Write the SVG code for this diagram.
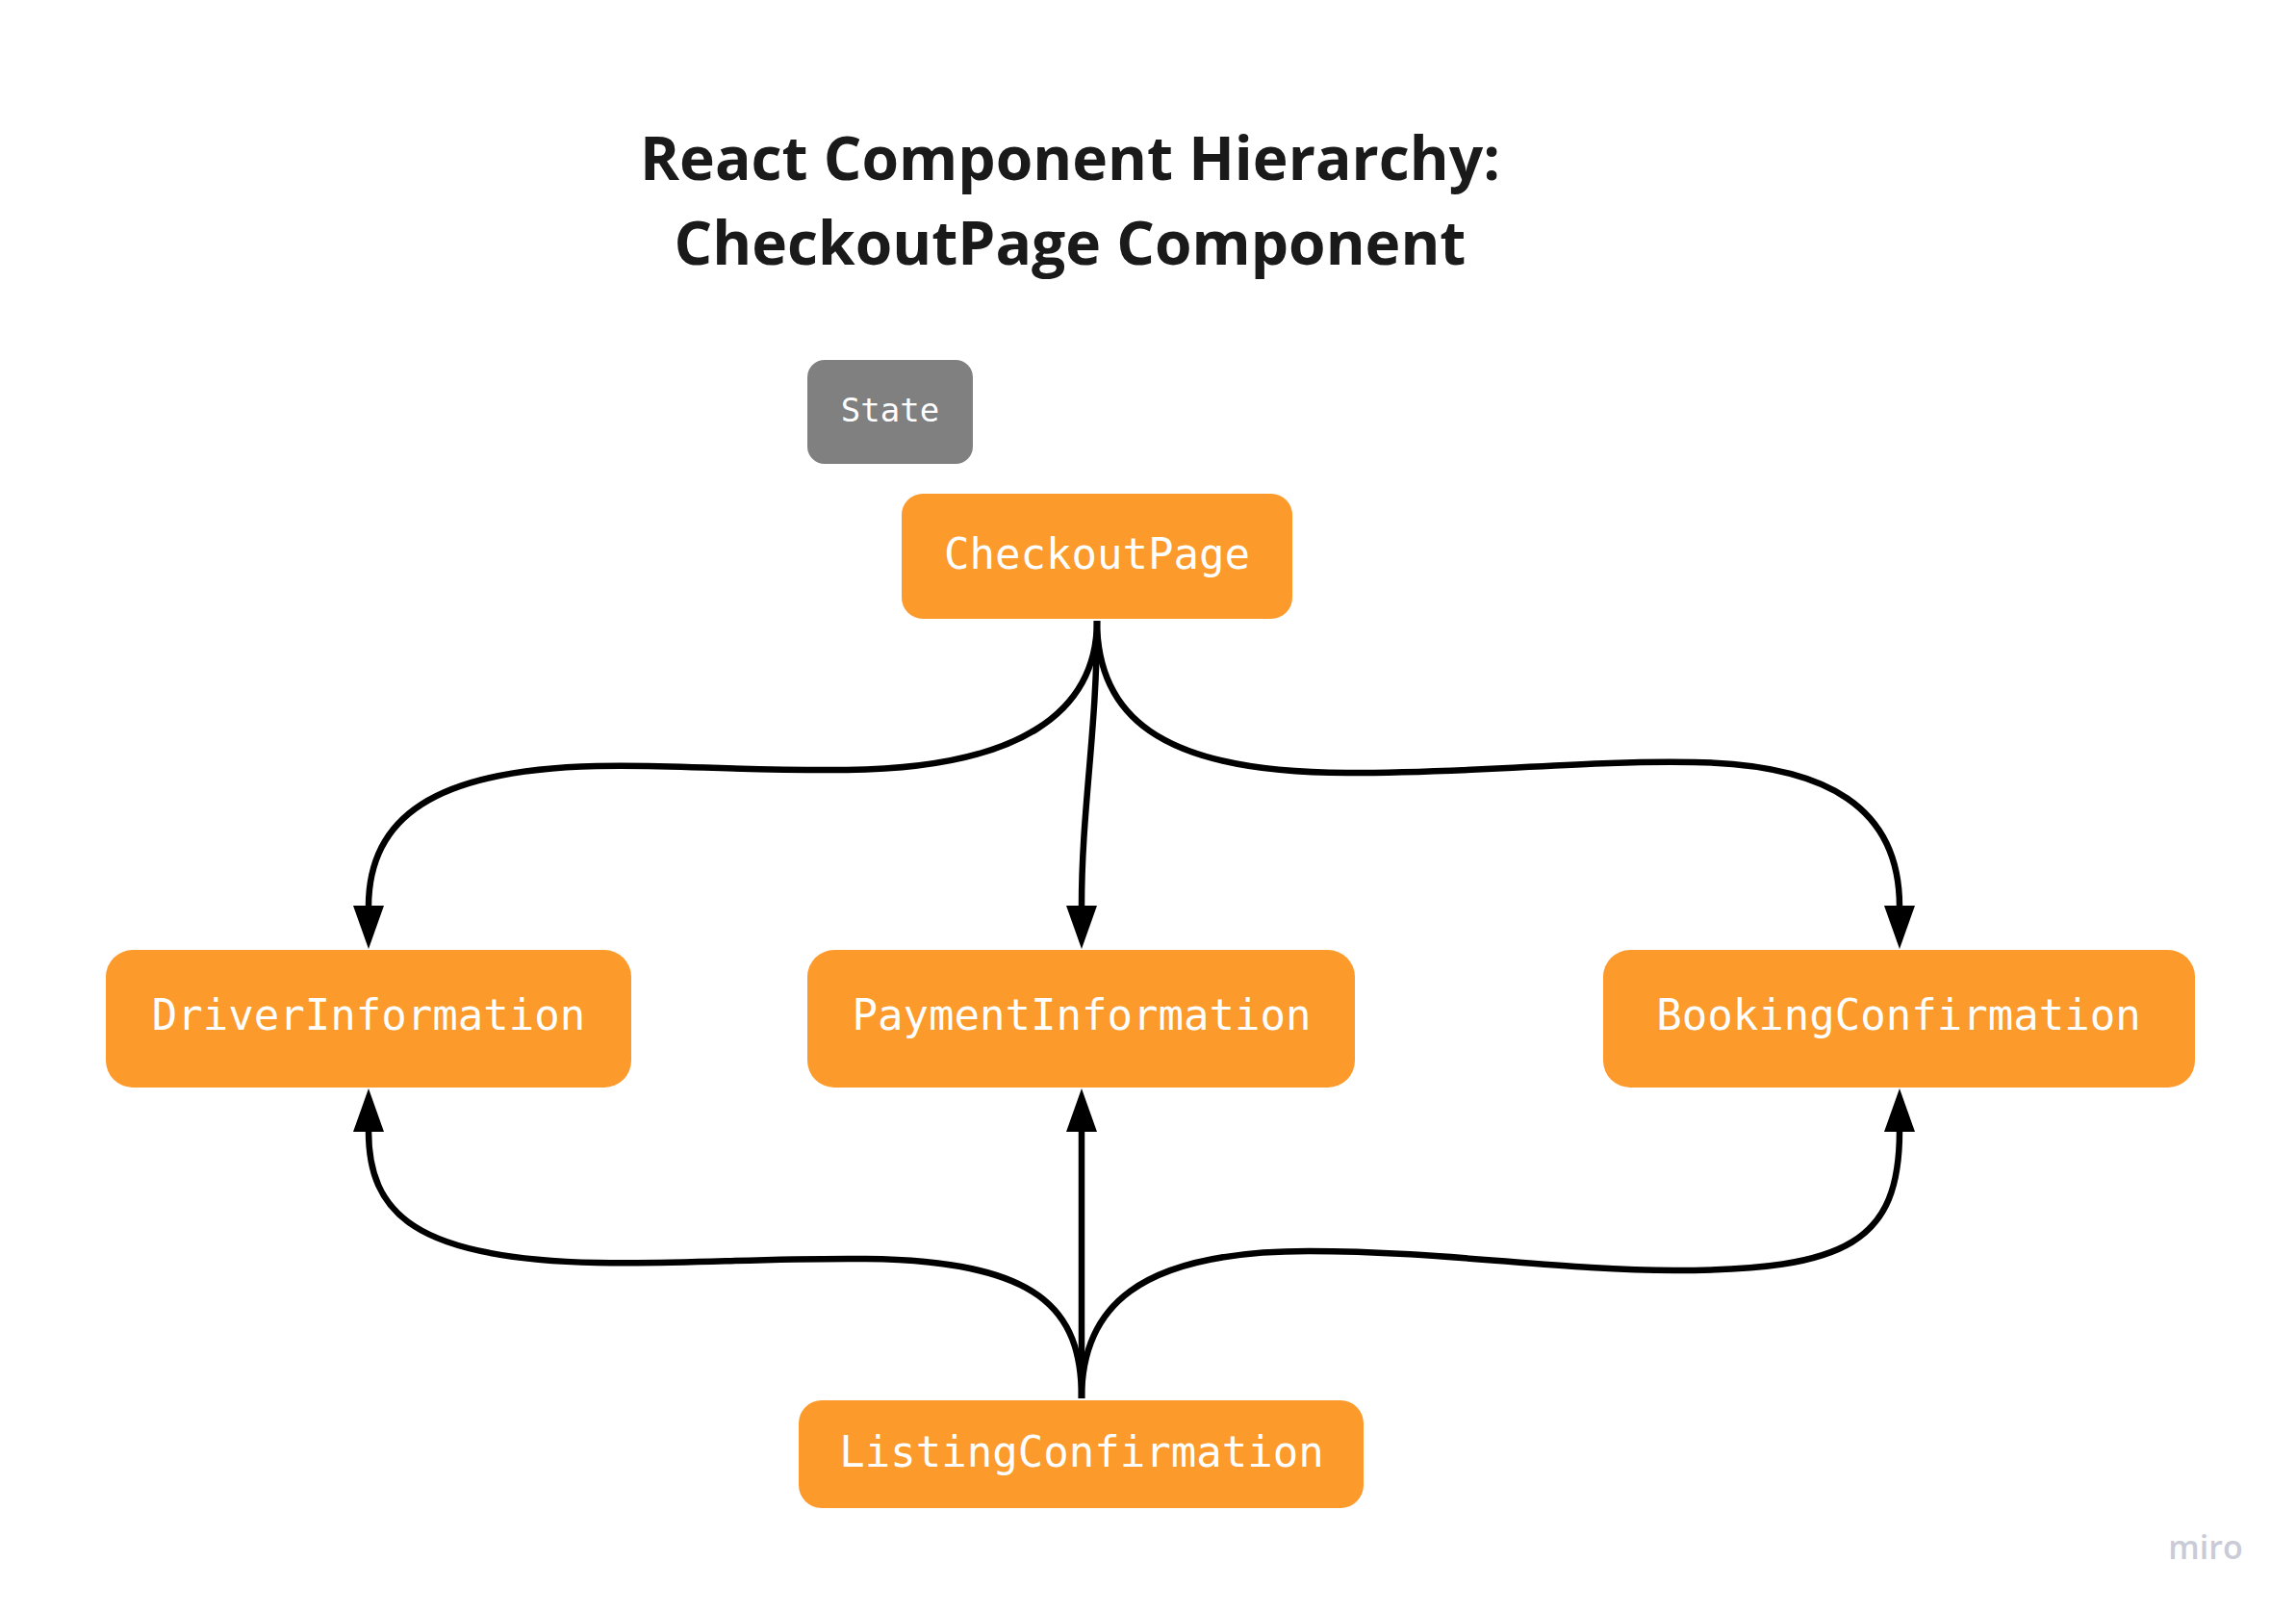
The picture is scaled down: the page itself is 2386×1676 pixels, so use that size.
<svg xmlns="http://www.w3.org/2000/svg" width="2386" height="1676" viewBox="0 0 2386 1676">
<style>
.title{font-family:"Open Sans","Noto Sans",sans-serif;font-weight:700;font-size:62.3px;fill:#1a1a1a;text-anchor:middle}
.node{fill:#fc9a2b}
.lbl{font-family:"DejaVu Sans Mono","Liberation Mono",monospace;font-size:44px;fill:#ffffff;text-anchor:middle}
.conn{fill:none;stroke:#000;stroke-width:6.5}
</style>
<defs>
<marker id="arr" viewBox="0 -17 45 34" markerWidth="45" markerHeight="34" refX="1" refY="0" orient="auto" markerUnits="userSpaceOnUse">
<path d="M0,-16 L45,0 L0,16 z" fill="#000"/>
</marker>
</defs>
<rect width="2386" height="1676" fill="#ffffff"/>
<g id="title">
<text class="title" x="1112" y="187">React Component Hierarchy:</text>
<text class="title" x="1112" y="275">CheckoutPage Component</text>
</g>
<g id="connectors">
<path class="conn" marker-end="url(#arr)" d="M1140,645 C1140,740 1060,798 880,800 C760,801 700,794 620,796 C450,800 383,850 383,942"/>
<path class="conn" marker-end="url(#arr)" d="M1140,645 C1140,760 1124,840 1124,942"/>
<path class="conn" marker-end="url(#arr)" d="M1140,645 C1140,740 1200,803 1400,803 C1550,803 1640,790 1760,792 C1900,794 1974,840 1974,942"/>
<path class="conn" marker-end="url(#arr)" d="M1124,1453 C1124,1360 1080,1310 900,1308 C780,1307 720,1314 620,1312 C430,1308 383,1260 383,1175"/>
<path class="conn" marker-end="url(#arr)" d="M1124,1453 L1124,1175"/>
<path class="conn" marker-end="url(#arr)" d="M1124,1453 C1124,1360 1180,1300 1360,1300 C1500,1300 1620,1320 1740,1320 C1920,1320 1974,1290 1974,1175"/>
</g>
<g id="state">
<rect x="839" y="374" width="172" height="108" rx="18" fill="#808080"/>
<text class="lbl" x="925" y="438" style="font-size:34px">State</text>
</g>
<g id="checkoutpage">
<rect class="node" x="937" y="513" width="406" height="130" rx="22"/>
<text class="lbl" x="1140" y="591">CheckoutPage</text>
</g>
<g id="driverinformation">
<rect class="node" x="110" y="987" width="546" height="143" rx="28"/>
<text class="lbl" x="383" y="1070">DriverInformation</text>
</g>
<g id="paymentinformation">
<rect class="node" x="839" y="987" width="569" height="143" rx="28"/>
<text class="lbl" x="1124" y="1070">PaymentInformation</text>
</g>
<g id="bookingconfirmation">
<rect class="node" x="1666" y="987" width="615" height="143" rx="28"/>
<text class="lbl" x="1973" y="1070">BookingConfirmation</text>
</g>
<g id="listingconfirmation">
<rect class="node" x="830" y="1455" width="587" height="112" rx="24"/>
<text class="lbl" x="1124" y="1524">ListingConfirmation</text>
</g>
<g id="watermark">
<text x="2292" y="1620" style="font-family:'Open Sans',sans-serif;font-weight:600;font-size:34px;fill:#c9cbd6;text-anchor:middle">miro</text>
</g>
</svg>
